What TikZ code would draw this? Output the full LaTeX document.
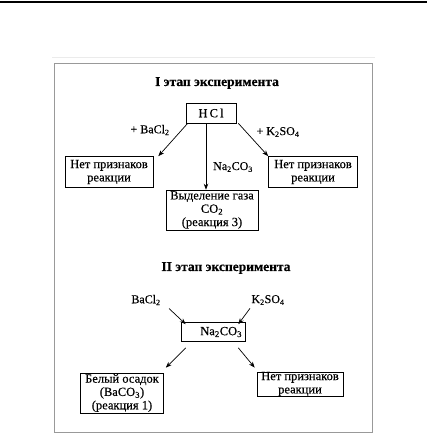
\documentclass[tikz,border=0pt]{standalone}
\usepackage{fontspec}
\setmainfont{Liberation Serif}[FakeBold=0.4]
\usetikzlibrary{arrows.meta}
\begin{document}
\begin{tikzpicture}[x=1pt, y=-1pt,
    txt/.style={font=\fontsize{12}{13.3}\selectfont},
    title/.style={font=\fontsize{13.5}{14}\selectfont\bfseries},
    box/.style={font=\fontsize{12.5}{13.3}\selectfont, draw, line width=0.6pt, align=center, inner xsep=2pt, inner ysep=0pt},
    arr/.style={-{Stealth[length=6pt,width=4.5pt]}, line width=0.7pt}]
    \useasboundingbox (0,0) rectangle (427,435);
    % Page rule and frame
    \draw[line width=1.2pt] (0,2) -- (427,2);
    \draw[black!8, line width=0.5pt] (52,57) -- (375,57);
    \draw[black!40, line width=0.8pt] (54,63) rectangle (372,432);

    % Stage I
    \node[title] (t1) at (217,83) {I этап эксперимента};
    \node[box, minimum width=50pt, minimum height=20pt] (hcl) at (211,113) {H\,C\,l};
    \node[box, minimum width=88pt, minimum height=31pt] (no1) at (109,172) {Нет признаков\\реакции};
    \node[box, minimum width=92pt, minimum height=40pt] (gas) at (212,210) {Выделение газа\\CO\textsubscript{2}\\(реакция 3)};
    \node[box, minimum width=89pt, minimum height=31pt] (no2) at (313,172) {Нет признаков\\реакции};

    \draw[arr] ([xshift=2pt]hcl.south west) -- ([xshift=5pt]no1.north east);
    \draw[arr] ([xshift=2pt]hcl.south east) -- (no2.north west);
    \draw[arr] ([xshift=-5pt]hcl.south) -- ([xshift=-5pt]hcl.south |- gas.north);

    \node[txt] (l1) at (150,130) {+ BaCl\textsubscript{2}};
    \node[txt] (l2) at (278,132) {+ K\textsubscript{2}SO\textsubscript{4}};
    \node[txt] (l3) at (233,167) {Na\textsubscript{2}CO\textsubscript{3}};

    % Stage II
    \node[title] (t2) at (226,268) {II этап эксперимента};
    \node[txt] (bacl) at (146,300) {BaCl\textsubscript{2}};
    \node[txt] (kso) at (268,300) {K\textsubscript{2}SO\textsubscript{4}};
    \node[box, text width=58pt, align=right, inner xsep=3pt, minimum height=19pt] (na) at (213,332) {Na\textsubscript{2}CO\textsubscript{3}};
    \node[box, minimum width=83pt, minimum height=40pt] (white) at (122,393) {Белый осадок\\(BaCO\textsubscript{3})\\(реакция 1)};
    \node[box, minimum width=86pt, minimum height=23pt] (no3) at (300,384) {Нет признаков\\реакции};

    \draw[arr] ([xshift=5pt]bacl.south east) -- ([xshift=5pt, yshift=-2pt]na.north west);
    \draw[arr] ([xshift=2pt]kso.south west) -- ([xshift=-7pt, yshift=-2pt]na.north east);
    \draw[arr] ([xshift=5pt, yshift=-6pt]na.south west) -- ([xshift=2pt, yshift=5pt]white.north east);
    \draw[arr] ([xshift=-7pt, yshift=-6pt]na.south east) -- ([xshift=-2pt, yshift=4pt]no3.north west);
\end{tikzpicture}
\end{document}
